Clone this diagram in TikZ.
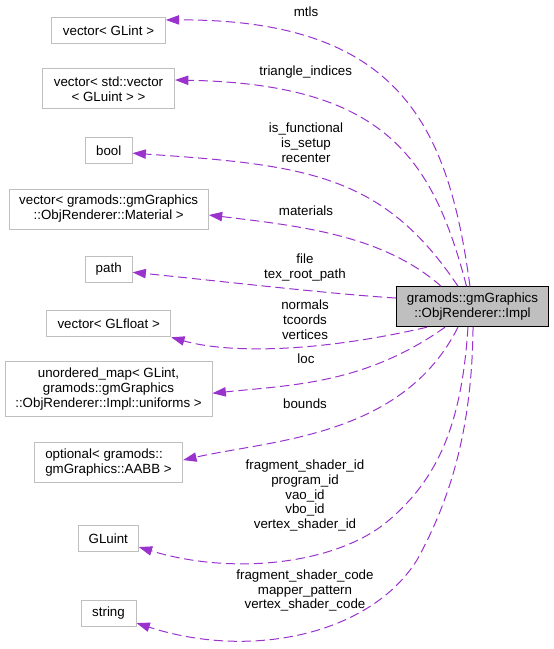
\documentclass[tikz,border=0pt]{standalone}
\usepackage{fontspec}
\setmainfont{Liberation Sans}
\usetikzlibrary{arrows.meta}
\definecolor{edgecol}{RGB}{154,50,205}
\definecolor{boxgray}{RGB}{191,191,191}
\begin{document}
\begin{tikzpicture}[x=0.75pt,y=-0.75pt,
  every node/.style={font=\fontsize{10pt}{11.2pt}\selectfont},
  typebox/.style={draw=boxgray, line width=0.75pt, fill=white, inner sep=0pt, align=center},
  mainbox/.style={draw=black, line width=0.75pt, fill=boxgray, inner sep=0pt, align=center},
  lbl/.style={inner sep=0pt, align=center},
  edge/.style={draw=edgecol, line width=0.75pt, dash pattern=on 7pt off 3.5pt,
    -{Triangle[length=10pt,width=7pt,fill=edgecol]}}]
\useasboundingbox (0,0) rectangle (553,649);

% type nodes
\node[typebox, minimum width=85.2pt, minimum height=19.5pt] (glint) at (108.5,30.5) {vector< GLint >};
\node[typebox, minimum width=99pt, minimum height=30pt] (vecvec) at (108.5,89) {vector< std::vector\\< GLuint > >};
\node[typebox, minimum width=35pt, minimum height=19.5pt] (bool) at (108.7,150.5) {bool};
\node[typebox, minimum width=149.5pt, minimum height=30pt] (material) at (108.7,209) {vector< gramods::gmGraphics\\::ObjRenderer::Material >};
\node[typebox, minimum width=35pt, minimum height=19.5pt] (path) at (108.7,269.3) {path};
\node[typebox, minimum width=93pt, minimum height=19.5pt] (glfloat) at (108.7,323.8) {vector< GLfloat >};
\node[typebox, minimum width=155.25pt, minimum height=41.25pt] (umap) at (108.5,389) {unordered\_map< GLint,\\ gramods::gmGraphics\\::ObjRenderer::Impl::uniforms >};
\node[typebox, align=left, minimum width=111.3pt, minimum height=30pt] (optional) at (108.5,462.3) {optional< gramods::\\gmGraphics::AABB >};
\node[typebox, minimum width=45pt, minimum height=19.5pt] (gluint) at (108.3,538.5) {GLuint};
\node[typebox, minimum width=41.25pt, minimum height=19.5pt] (string) at (108.5,613.3) {string};

% main node
\node[mainbox, minimum width=113.7pt, minimum height=30pt] (impl) at (472.5,306.7) {gramods::gmGraphics\\::ObjRenderer::Impl};

% edges
\draw[edge] ([xshift=-1.9pt]impl.north) .. controls (448.4,127) and (401,19) .. ([yshift=7.9pt]glint.east);
\draw[edge] ([xshift=-4.5pt]impl.north) .. controls (432.7,157) and (384,84) .. ([yshift=6.75pt]vecvec.east);
\draw[edge] ([xshift=-10.9pt]impl.north) .. controls (383,174) and (306,165) .. ([yshift=-2pt]bool.east);
\draw[edge] ([xshift=-23.6pt]impl.north) .. controls (383,235) and (300,226) .. ([yshift=-4.5pt]material.east);
\draw[edge] ([yshift=6.5pt]impl.west) .. controls (330,294) and (210,280) .. ([yshift=-2.25pt]path.east);
\draw[edge] ([xshift=-34.1pt]impl.south) .. controls (320,352) and (230,354) .. (glfloat.south east);
\draw[edge] ([xshift=-20.6pt]impl.south) .. controls (365,384) and (292,385) .. ([yshift=-3.2pt]umap.east);
\draw[edge] ([xshift=-10.9pt]impl.south) .. controls (403,437) and (272,440) .. ([yshift=1.7pt]optional.east);
\draw[edge] ([xshift=-3.4pt]impl.south) .. controls (462,420) and (440,480) .. (383,525) .. controls (330,565) and (230,575) .. ([yshift=-6.4pt]gluint.east);
\draw[edge] ([xshift=0.4pt]impl.south) .. controls (472,430) and (450,500) .. (417,560) .. controls (370,635) and (250,660) .. ([yshift=-7.3pt]string.east);

% edge labels
\node[lbl] (l1) at (306,12) {mtls};
\node[lbl] (l2) at (305.7,72) {triangle\_indices};
\node[lbl] (l3) at (306,143) {is\_functional\\is\_setup\\recenter};
\node[lbl] (l4) at (306,211) {materials};
\node[lbl] (l5) at (305,267.5) {file\\tex\_root\_path};
\node[lbl] (l6) at (305,319.5) {normals\\tcoords\\vertices};
\node[lbl] (l7) at (306,359) {loc};
\node[lbl] (l8) at (305,404) {bounds};
\node[lbl] (l9) at (305,495.5) {fragment\_shader\_id\\program\_id\\vao\_id\\vbo\_id\\vertex\_shader\_id};
\node[lbl] (l10) at (305,590.5) {fragment\_shader\_code\\mapper\_pattern\\vertex\_shader\_code};
\end{tikzpicture}
\end{document}
